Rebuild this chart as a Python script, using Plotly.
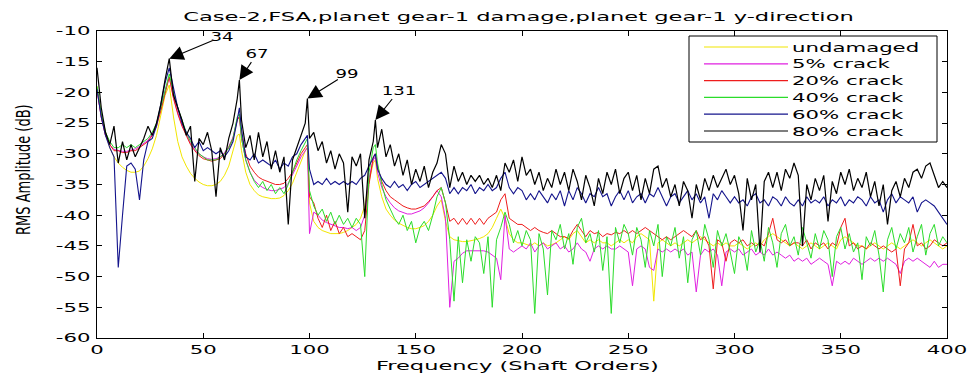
import json
import plotly.graph_objects as go

# ---------------------------------------------------------------------------
# Data: RMS amplitude spectra (dB) versus shaft order
# grid = every 2nd shaft order plus the odd-order mesh peaks 67, 99, 131
# ---------------------------------------------------------------------------
freq = sorted(set(range(0, 401, 2)) | {67, 99, 131})

undamaged = [
    -19.0, -23.5, -26.5, -29.0, -30.5, -31.5, -32.2, -32.7, -33.0, -33.0,
    -32.8, -32.0, -30.8, -29.2, -27.0, -24.0, -20.5, -18.8, -24.0, -28.0,
    -30.5, -32.0, -33.2, -34.0, -34.6, -35.0, -35.2, -35.2, -35.0, -34.5,
    -33.5, -32.0, -29.5, -27.0, -26.8, -29.5, -33.0, -35.0, -36.0, -36.7, -37.0,
    -37.2, -37.3, -37.3, -37.2, -36.8, -36.0, -34.8, -33.0, -31.0, -29.5, -29.0,
    -38.0, -41.0, -42.0, -42.5, -42.8, -43.0, -43.0, -43.0, -42.8, -42.5,
    -42.0, -41.5, -40.5, -38.5, -34.5, -31.5, -31.0, -34.0, -37.0, -39.0, -40.0,
    -40.8, -41.3, -41.7, -42.0, -42.2, -42.2, -42.0, -41.7, -41.0, -40.0,
    -38.5, -37.5, -41.0, -43.5, -44.0, -44.2, -44.3, -44.3, -44.2, -44.0,
    -43.8, -43.5, -43.0, -42.0, -40.5, -39.0, -40.5, -43.0, -44.0, -44.5,
    -44.5, -44.8, -45.0, -44.5, -45.0, -44.5, -45.0, -44.8, -44.5, -44.0,
    -43.5, -44.0, -43.0, -42.5, -43.5, -44.5, -44.0, -44.5, -44.0, -44.5,
    -44.5, -45.0, -44.5, -44.0, -44.5, -44.0, -44.5, -43.5, -43.0, -43.5,
    -44.0, -54.0, -44.5, -44.0, -44.5, -45.0, -44.5, -45.0, -44.5, -44.0,
    -44.5, -44.0, -43.5, -44.0, -44.5, -45.0, -44.5, -45.0, -44.5, -45.0,
    -45.0, -44.5, -45.0, -45.5, -45.0, -44.5, -45.0, -44.0, -43.5, -43.0,
    -43.5, -44.0, -44.5, -45.0, -44.5, -45.0, -45.5, -45.0, -44.5, -45.0,
    -45.5, -45.0, -44.5, -45.0, -45.5, -44.0, -43.5, -44.0, -44.5, -45.0,
    -45.0, -45.5, -45.0, -44.5, -45.0, -45.5, -45.0, -44.5, -45.0, -45.5,
    -45.0, -44.5, -44.0, -44.5, -45.0, -44.5, -44.0, -44.5, -45.0, -45.5,
    -45.0,
]

crack_5 = [
    -19.5, -24.0, -27.0, -28.5, -29.3, -29.5, -29.6, -29.6, -29.4, -29.2,
    -28.8, -28.3, -27.8, -26.8, -25.2, -22.8, -19.8, -17.5, -20.8, -23.3,
    -25.3, -26.8, -28.3, -29.3, -30.0, -30.5, -30.8, -30.9, -30.8, -30.5,
    -29.8, -28.8, -27.3, -24.3, -24.0, -27.5, -31.0, -33.0, -34.3, -35.0, -35.5,
    -35.8, -36.0, -36.0, -35.8, -35.5, -34.8, -33.5, -32.0, -30.5, -29.5, -29.0,
    -43.0, -39.5, -40.0, -40.8, -41.2, -41.5, -41.8, -42.0, -42.0, -42.2,
    -42.0, -42.5, -42.0, -40.0, -34.0, -31.0, -30.5, -33.0, -35.5, -37.0, -38.0,
    -38.8, -39.3, -39.6, -39.8, -39.8, -39.6, -39.3, -38.8, -38.0, -37.0,
    -36.0, -37.0, -40.5, -55.0, -47.5, -47.0, -46.2, -45.8, -45.8, -45.7,
    -45.7, -45.8, -46.0, -46.5, -47.0, -50.5, -40.0, -45.5, -46.0, -45.5,
    -45.0, -45.5, -44.5, -46.0, -45.0, -44.5, -45.5, -45.0, -44.5, -45.5,
    -45.0, -46.0, -45.5, -44.5, -45.5, -46.0, -47.5, -45.5, -45.0, -45.5,
    -45.0, -45.5, -45.5, -45.0, -45.5, -46.0, -51.5, -45.5, -45.0, -45.5,
    -48.5, -49.0, -45.5, -46.0, -45.5, -46.0, -45.5, -46.0, -45.5, -46.5,
    -46.0, -52.5, -46.5, -45.5, -46.0, -45.5, -46.5, -51.5, -46.0, -45.5,
    -46.0, -45.5, -46.5, -46.0, -45.5, -46.5, -46.0, -46.5, -45.5, -46.5,
    -46.0, -46.5, -47.0, -46.5, -47.5, -47.0, -47.5, -47.0, -48.0, -47.5,
    -47.0, -47.5, -48.0, -51.5, -47.5, -48.0, -47.5, -48.0, -47.0, -47.5,
    -48.0, -47.5, -47.0, -47.5, -47.0, -47.5, -47.0, -47.5, -48.0, -49.5,
    -47.5, -47.0, -47.5, -47.0, -47.5, -48.0, -48.5, -47.5, -48.5, -48.0,
    -48.0,
]

crack_20 = [
    -19.5, -24.0, -27.0, -28.5, -29.5, -29.5, -29.8, -29.8, -29.5, -29.5,
    -29.0, -28.5, -28.0, -27.0, -25.5, -23.0, -20.0, -17.5, -21.0, -23.5,
    -25.5, -27.0, -28.5, -29.5, -30.3, -30.8, -31.0, -31.2, -31.0, -30.8,
    -30.0, -29.0, -27.5, -24.5, -24.0, -27.0, -30.0, -32.0, -33.0, -33.8, -34.2,
    -34.5, -34.8, -35.0, -35.0, -34.8, -34.0, -33.0, -31.5, -30.0, -29.0, -28.5,
    -37.0, -38.0, -40.5, -42.0, -40.0, -42.5, -41.0, -43.0, -42.0, -43.5,
    -43.0, -43.5, -44.0, -42.5, -35.0, -30.5, -30.0, -32.0, -34.5, -36.0, -37.0,
    -37.5, -38.0, -38.5, -38.8, -39.0, -39.0, -38.8, -38.5, -37.8, -37.0,
    -36.0, -35.5, -38.0, -41.0, -40.5, -41.5, -40.5, -41.5, -40.5, -41.5,
    -40.5, -41.5, -40.5, -40.0, -39.5, -37.5, -36.5, -40.5, -41.0, -41.5,
    -41.5, -42.0, -42.5, -42.0, -42.5, -42.8, -43.0, -42.5, -43.0, -43.5,
    -43.5, -43.8, -42.5, -41.5, -42.5, -43.5, -42.5, -43.0, -42.8, -43.5,
    -43.0, -43.2, -42.8, -43.0, -42.5, -43.0, -42.5, -43.0, -42.5, -42.0,
    -42.5, -43.0, -43.5, -44.0, -43.5, -44.0, -43.5, -43.0, -42.5, -43.0,
    -43.5, -42.5, -44.0, -43.5, -45.0, -52.0, -44.0, -44.5, -47.5, -44.5,
    -44.0, -44.5, -44.0, -45.0, -44.5, -45.0, -44.5, -45.0, -43.0, -40.5,
    -44.0, -44.5, -44.0, -45.0, -44.5, -44.5, -45.0, -44.0, -45.5, -44.5,
    -45.0, -44.5, -45.5, -44.5, -45.0, -42.0, -40.5, -45.0, -44.5, -45.5,
    -45.0, -45.5, -44.5, -45.0, -45.5, -45.0, -45.5, -46.0, -45.5, -51.5,
    -45.5, -44.5, -41.5, -45.0, -44.5, -45.5, -45.0, -44.0, -44.5, -45.0,
    -44.5,
]

crack_40 = [
    -19.0, -23.5, -26.5, -28.0, -29.0, -29.0, -28.5, -29.0, -28.5, -29.0,
    -28.5, -28.0, -27.5, -26.5, -25.0, -22.5, -19.5, -17.0, -20.0, -22.5,
    -24.5, -26.5, -28.0, -29.0, -30.0, -30.5, -31.0, -31.0, -31.0, -30.5,
    -30.0, -29.0, -27.5, -24.0, -23.5, -27.5, -31.0, -33.0, -34.5, -35.5, -34.5,
    -36.0, -35.0, -36.5, -35.5, -36.5, -35.0, -33.0, -31.0, -29.5, -28.0, -27.5,
    -36.0, -38.5, -40.0, -39.0, -41.0, -39.5, -41.5, -40.0, -41.5, -40.5,
    -42.0, -40.5, -41.5, -50.0, -33.0, -29.0, -28.5, -31.5, -35.0, -37.5, -39.0,
    -40.5, -41.5, -40.0, -42.5, -41.0, -44.5, -42.0, -41.0, -42.5, -40.0,
    -37.0, -35.5, -38.0, -44.0, -54.0, -43.5, -51.0, -44.0, -47.5, -43.5,
    -44.5, -49.5, -43.5, -55.0, -44.0, -42.0, -39.5, -41.5, -44.5, -42.5,
    -45.0, -42.5, -44.0, -56.0, -43.0, -45.5, -53.0, -42.5, -44.0, -41.5,
    -45.5, -43.0, -48.0, -42.0, -40.5, -44.5, -43.0, -46.0, -42.5, -49.0,
    -43.5, -56.0, -42.0, -44.5, -41.5, -43.0, -46.5, -42.0, -44.0, -48.5,
    -42.5, -45.0, -41.5, -50.0, -43.5, -45.0, -42.0, -47.0, -43.5, -51.0,
    -44.0, -42.5, -46.5, -41.5, -44.0, -48.5, -42.5, -45.0, -43.0, -46.0,
    -49.5, -43.5, -45.0, -49.0, -42.5, -46.0, -44.0, -47.5, -42.0, -44.5,
    -48.5, -43.0, -41.5, -45.0, -43.5, -46.5, -42.0, -44.5, -47.0, -43.0,
    -45.5, -42.5, -44.0, -50.0, -43.5, -42.0, -45.5, -43.0, -46.0, -44.5,
    -50.5, -43.5, -45.0, -42.5, -46.5, -52.5, -44.0, -42.0, -45.5, -43.0,
    -44.5, -42.0, -46.0, -43.5, -41.5, -46.5, -43.0, -41.5, -45.0, -43.5,
    -44.5,
]

crack_60 = [
    -19.5, -24.0, -27.0, -29.0, -30.5, -48.5, -40.0, -32.0, -31.5, -32.5,
    -37.5, -31.0, -28.0, -27.5, -25.5, -22.0, -18.5, -16.0, -19.5, -22.5,
    -25.0, -26.5, -27.5, -29.0, -28.0, -29.5, -29.0, -29.5, -30.0, -29.5,
    -30.5, -29.5, -28.0, -24.5, -22.5, -26.0, -30.5, -31.0, -30.0, -31.5, -31.0,
    -31.5, -32.0, -31.0, -32.5, -31.5, -32.0, -30.5, -30.0, -28.5, -27.5, -27.0,
    -32.5, -35.0, -34.5, -35.0, -34.0, -35.0, -34.5, -35.0, -34.5, -35.0,
    -34.5, -35.0, -34.0, -33.5, -32.0, -30.5, -30.0, -32.5, -34.0, -35.0, -35.5,
    -34.5, -35.5, -35.0, -36.0, -35.0, -34.5, -35.5, -35.0, -34.5, -34.0,
    -33.5, -33.0, -34.0, -36.5, -35.5, -36.5, -35.5, -36.0, -35.0, -36.5,
    -35.5, -36.0, -35.0, -36.0, -35.5, -34.0, -33.0, -35.5, -36.5, -35.5,
    -36.0, -37.5, -36.5, -37.5, -36.0, -37.0, -38.0, -36.5, -37.5, -36.0,
    -38.5, -36.0, -37.5, -35.5, -36.5, -38.0, -36.5, -37.0, -35.5, -37.0,
    -36.5, -38.5, -37.0, -36.0, -37.5, -36.0, -38.0, -37.0, -36.5, -38.0,
    -36.5, -37.0, -35.5, -37.0, -38.5, -37.0, -36.5, -38.0, -37.0, -36.0,
    -37.5, -36.5, -38.0, -37.0, -40.5, -36.5, -37.5, -36.0, -37.0, -38.0,
    -37.0, -38.0, -37.5, -38.5, -37.0, -36.5, -38.0, -37.5, -38.5, -37.0,
    -37.5, -38.5, -37.0, -38.0, -38.5, -37.5, -38.5, -37.0, -38.0, -37.5,
    -38.0, -37.0, -38.5, -37.5, -38.0, -37.0, -38.5, -37.5, -38.0, -37.0,
    -37.5, -38.5, -37.0, -38.0, -37.5, -39.5, -37.5, -36.5, -38.0, -37.0,
    -37.5, -38.0, -37.0, -39.5, -38.0, -37.5, -38.0, -38.5, -39.5, -40.5,
    -41.5,
]

crack_80 = [
    -16.0, -22.5, -26.5, -28.5, -25.5, -31.5, -28.0, -31.0, -28.5, -30.5,
    -29.0, -27.5, -25.5, -27.0, -25.0, -22.0, -18.0, -14.5, -20.5, -22.5,
    -24.5, -27.0, -25.5, -34.5, -27.5, -28.5, -26.5, -29.5, -37.0, -29.0,
    -31.0, -27.5, -25.0, -21.0, -18.0, -24.5, -29.0, -27.0, -31.0, -26.5, -30.5,
    -28.0, -32.5, -29.5, -33.0, -30.5, -41.5, -31.0, -29.0, -27.0, -25.0, -21.0,
    -27.5, -26.5, -29.5, -28.0, -31.5, -29.5, -32.5, -30.0, -31.5, -39.5,
    -30.5, -32.0, -30.0, -40.5, -31.0, -28.0, -24.5, -29.0, -26.0, -30.5, -28.5,
    -32.0, -30.0, -33.5, -31.0, -35.0, -32.5, -34.5, -32.0, -35.5, -33.0,
    -31.5, -28.5, -30.0, -35.5, -32.0, -34.5, -33.0, -35.0, -33.5, -34.5,
    -33.5, -35.0, -34.0, -35.5, -33.5, -36.0, -31.5, -33.0, -31.0, -34.5,
    -30.5, -33.5, -32.5, -35.0, -33.0, -36.0, -34.0, -35.5, -32.5, -35.0,
    -33.0, -36.0, -32.5, -34.5, -37.5, -33.5, -35.5, -38.5, -34.0, -36.5,
    -33.0, -35.0, -32.5, -36.5, -34.0, -33.0, -36.0, -33.5, -37.5, -34.0,
    -36.5, -32.5, -32.0, -35.5, -34.0, -37.0, -35.0, -38.5, -34.5, -36.0,
    -40.5, -35.0, -37.5, -34.0, -36.0, -33.5, -35.5, -34.0, -32.5, -35.0,
    -33.5, -36.5, -42.5, -34.0, -37.5, -35.0, -46.0, -34.5, -33.0, -35.5,
    -33.0, -36.0, -32.5, -34.0, -31.5, -33.5, -45.0, -35.0, -37.5, -34.0,
    -36.0, -33.5, -41.0, -34.5, -36.5, -33.0, -35.0, -32.5, -36.0, -34.0,
    -35.5, -33.0, -37.0, -34.5, -38.5, -35.0, -41.5, -36.0, -34.5, -37.0,
    -34.0, -35.5, -33.0, -32.5, -34.0, -32.0, -31.5, -33.5, -35.5, -34.5,
    -35.5,
]

series_names = ["undamaged", "5% crack", "20% crack", "40% crack", "60% crack", "80% crack"]
series_values = [undamaged, crack_5, crack_20, crack_40, crack_60, crack_80]
peak_orders = [34, 67, 99, 131]

x_ticks = [0, 50, 100, 150, 200, 250, 300, 350, 400]
x_tick_labels = ["0", "50", "100", "150", "200", "250", "300", "350", "400"]
y_ticks = [-60, -55, -50, -45, -40, -35, -30, -25, -20, -15, -10]
y_tick_labels = ["-60", "-55", "-50", "-45", "-40", "-35", "-30", "-25", "-20", "-15", "-10"]

title = "Case-2,FSA,planet gear-1 damage,planet gear-1 y-direction"
x_label = "Frequency (Shaft Orders)"
y_label = "RMS Amplitude (dB)"

for vals in series_values:
    if len(vals) != len(freq):
        raise ValueError("series length %d != grid length %d" % (len(vals), len(freq)))

# ---------------------------------------------------------------------------
# Styling
# ---------------------------------------------------------------------------
series_colors = ["#f2e600", "#e020e0", "#ee1c1c", "#2bdc2b", "#14148c", "#000000"]
line_widths = [1.0, 1.0, 1.0, 1.0, 1.1, 1.2]
FONT = "DejaVu Sans"

W, H = 972, 376
L, R, T, B = 97, 25, 31, 38
PW, PH = W - L - R, H - T - B


def paper_x(px):
    return (px - L) / PW


def paper_y(py):
    return (H - B - py) / PH


fig = go.Figure()
for name, vals, color, width in zip(series_names, series_values, series_colors, line_widths):
    fig.add_trace(go.Scatter(
        x=freq, y=vals, mode="lines", name=name,
        line=dict(color=color, width=width),
        showlegend=False, hoverinfo="skip",
    ))

axis_common = dict(
    ticks="inside", ticklen=5, tickwidth=1, tickcolor="black",
    showline=True, linecolor="black", linewidth=1, mirror="ticks",
    showgrid=False, zeroline=False,
    tickfont=dict(family=FONT, size=12.5, color="black"),
)
fig.update_xaxes(range=[0, 400], tickmode="array", tickvals=x_ticks, ticktext=x_tick_labels, **axis_common)
fig.update_yaxes(range=[-60, -10], tickmode="array", tickvals=y_ticks, ticktext=y_tick_labels, **axis_common)

annotations = []

# peak markers: arrow tip on the 80% crack spectrum at each labelled order
label_offsets = [(53, -22), (18, -27), (40, -25), (24, -30)]
for order, (ax, ay) in zip(peak_orders, label_offsets):
    tip = crack_80[freq.index(order)]
    annotations.append(dict(
        x=order, y=tip, xref="x", yref="y", text=str(order),
        showarrow=True, ax=ax, ay=ay, axref="pixel", ayref="pixel",
        arrowhead=2, arrowsize=2.6, arrowwidth=1.1, arrowcolor="black",
        font=dict(family=FONT, size=12.5, color="black"),
    ))

# axis labels
annotations.append(dict(
    x=paper_x(517.5), y=paper_y(366), xref="paper", yref="paper", text=x_label,
    showarrow=False, xanchor="center", yanchor="middle",
    font=dict(family=FONT, size=12, color="black"),
))
annotations.append(dict(
    x=paper_x(23), y=paper_y(170), xref="paper", yref="paper", text=y_label,
    showarrow=False, textangle=-90, xanchor="center", yanchor="middle",
    font=dict(family=FONT, size=13, color="black"),
))

# boxed legend with long line samples
shapes = [dict(
    type="rect", xref="paper", yref="paper",
    x0=paper_x(689), x1=paper_x(937), y0=paper_y(142), y1=paper_y(36),
    line=dict(color="black", width=1), fillcolor="white", layer="above",
)]
for i, (name, color) in enumerate(zip(series_names, series_colors)):
    row_py = 47 + i * 16.8
    shapes.append(dict(
        type="line", xref="paper", yref="paper",
        x0=paper_x(704), x1=paper_x(788), y0=paper_y(row_py), y1=paper_y(row_py),
        line=dict(color=color, width=1.2), layer="above",
    ))
    annotations.append(dict(
        x=paper_x(790), y=paper_y(row_py), xref="paper", yref="paper", text=name,
        showarrow=False, xanchor="left", yanchor="middle",
        font=dict(family=FONT, size=12.5, color="black"),
    ))

fig.update_layout(
    width=W, height=H,
    margin=dict(l=L, r=R, t=T, b=B, pad=0),
    paper_bgcolor="white", plot_bgcolor="white",
    title=dict(
        text=title, x=paper_x(518.5), xref="paper", xanchor="center",
        y=1 - 17 / H, yref="container", yanchor="middle",
        font=dict(family=FONT, size=11.5, color="black"),
    ),
    annotations=annotations, shapes=shapes,
    showlegend=False,
)

# The lettering of this figure is set horizontally expanded: scale each text
# element along x about its anchor (left edge for legend labels); the y tick
# labels also sit a few pixels further from the axis.
stretch_js = """
(function () {
  var gd = document.getElementById('{plot_id}');
  if (!gd) return;
  var keepLeft = %s;
  var ylab = %s;
  var targets = %s;
  var peaks = %s;
  function anchorX(t, bb) {
    var a = t.getAttribute('text-anchor') || window.getComputedStyle(t).textAnchor || 'start';
    if (a === 'middle') return bb.x + bb.width / 2;
    if (a === 'end') return bb.x + bb.width;
    return bb.x;
  }
  function widen(t, k, shift) {
    var s = t.textContent || '';
    if (!s.length) return;
    var bb = t.getBBox();
    if (!bb.width) return;
    var prev = t.getAttribute('transform') || '';
    if (s === ylab) {
      var cy = bb.y + bb.height / 2;
      t.setAttribute('transform', prev + ' translate(0,' + cy + ') scale(1,1.45) translate(0,' + (-cy) + ')');
      return;
    }
    if (targets[s]) k = targets[s] / bb.width;
    if (peaks.indexOf(s) >= 0) k = 1.45;
    var ax = keepLeft.indexOf(s) >= 0 ? bb.x : anchorX(t, bb);
    t.setAttribute('transform', prev + ' translate(' + (ax + shift) + ',0) scale(' + k + ',1) translate(' + (-ax) + ',0)');
  }
  gd.querySelectorAll('.ytick text').forEach(function (t) { widen(t, 1.7, -3); });
  gd.querySelectorAll('.xtick text, .gtitle, .annotation-text').forEach(function (t) { widen(t, 1.7, 0); });
})();
""" % (json.dumps(series_names), json.dumps(y_label),
       json.dumps({title: 671, x_label: 283}), json.dumps([str(p) for p in peak_orders]))

fig.write_html("out.html", post_script=stretch_js, config={"displayModeBar": False})
